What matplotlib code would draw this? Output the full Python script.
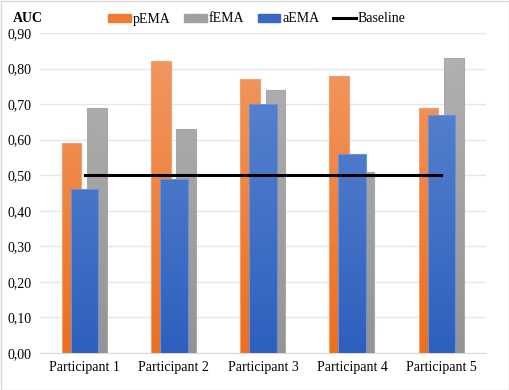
import matplotlib
matplotlib.use("Agg")
import matplotlib.pyplot as plt
import numpy as np
from matplotlib.patches import Rectangle
from matplotlib.lines import Line2D
from matplotlib.colors import LinearSegmentedColormap

categories = ["Participant 1", "Participant 2", "Participant 3", "Participant 4", "Participant 5"]
pEMA = [0.59, 0.82, 0.77, 0.78, 0.69]
fEMA = [0.69, 0.63, 0.74, 0.51, 0.83]
aEMA = [0.46, 0.49, 0.70, 0.56, 0.67]
baseline = 0.50
yticks = [0.0, 0.1, 0.2, 0.3, 0.4, 0.5, 0.6, 0.7, 0.8, 0.9]

plt.rcParams['font.family'] = ['Liberation Serif', 'DejaVu Serif']

fig = plt.figure(figsize=(5.1, 3.9), dpi=100)
W, H = 510, 390
ax = fig.add_axes([40/W, 1-353/H, (486-40)/W, (353-33)/H])
ax.set_xlim(-0.5, 4.5)
ax.set_ylim(0, 0.9)

x = np.arange(len(categories))

def grad_bars(xs, vals, width, top, bottom, edge, z):
    bars = ax.bar(xs, vals, width=width, color='none', edgecolor=edge, linewidth=0.8, zorder=z+0.1)
    cmap = LinearSegmentedColormap.from_list('g', [bottom, top])
    grad = np.linspace(0, 1, 256).reshape(-1, 1)
    for b in bars:
        bx, by = b.get_x(), b.get_y()
        bw, bh = b.get_width(), b.get_height()
        im = ax.imshow(grad, cmap=cmap, origin='lower', aspect='auto',
                       extent=[bx, bx+bw, 0, 0.9], zorder=z, interpolation='bilinear')
        clip = Rectangle((bx, by), bw, bh, transform=ax.transData)
        im.set_clip_path(clip)
    return bars

grad_bars(x-0.146, pEMA, 0.22, '#F29A65', '#EC6F1E', '#F0A070', 2)
grad_bars(x+0.14, fEMA, 0.22, '#B3B3B3', '#949494', '#A8A8A8', 3)
grad_bars(x, aEMA, 0.31, '#6189D2', '#2D60BE', '#6A90D8', 4)

ax.plot([x[0], x[-1]], [baseline, baseline], color='black', linewidth=2.2, zorder=6)
ax.set_xlim(-0.5, 4.5)
ax.set_ylim(0, 0.9)

ax.set_yticks(yticks)
ax.set_yticklabels([f"{v:.2f}".replace('.', ',') for v in yticks], fontsize=10)
ax.set_xticks(x)
ax.set_xticklabels(categories, fontsize=10)
ax.tick_params(length=0, pad=6)
ax.yaxis.grid(True, color='#E3E6EA', linewidth=1)
ax.set_axisbelow(True)
for s in ['top', 'right', 'left']:
    ax.spines[s].set_visible(False)
ax.spines['bottom'].set_color('#D9D9D9')

fig.text(13/W, 1-18/H, "AUC", fontsize=10, fontweight='bold', va='center', ha='left')

handles = [Rectangle((0, 0), 1, 1, color='#EE7A33'),
           Rectangle((0, 0), 1, 1, color='#A0A0A0'),
           Rectangle((0, 0), 1, 1, color='#3A68C4'),
           Line2D([0], [0], color='black', linewidth=2.2)]
leg = fig.legend(handles, ["pEMA", "fEMA", "aEMA", "Baseline"], loc='center',
                 bbox_to_anchor=(257/W, 1-19/H), ncol=4, frameon=False, fontsize=10,
                 handlelength=1.6, handleheight=0.5, columnspacing=1.0, handletextpad=0.15)

fig.add_artist(Rectangle((0.5/W, 0.5/H), 1-1/W, 1-1/H, transform=fig.transFigure,
                         fill=False, edgecolor='#D9D9D9', linewidth=1))

fig.savefig("out.png", dpi=100)
